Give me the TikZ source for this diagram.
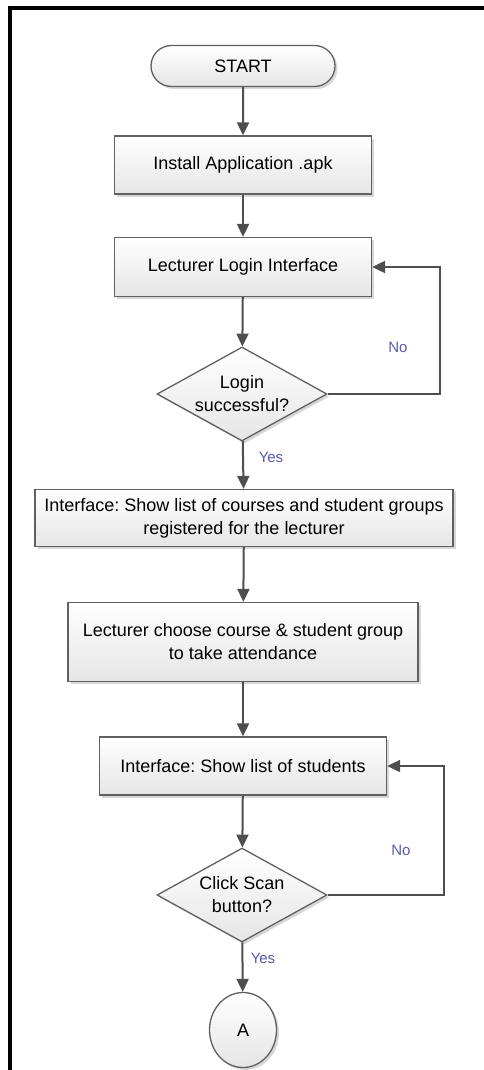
\documentclass[tikz,border=0pt]{standalone}
\usepackage{fontspec}
\setmainfont{Liberation Sans}
\frenchspacing
\usetikzlibrary{shapes.geometric,shapes.misc,shadows,arrows.meta}
\definecolor{trait}{RGB}{78,78,78}
\definecolor{bord}{RGB}{96,96,96}
\definecolor{etiq}{RGB}{88,88,178}

\begin{document}
\begin{tikzpicture}[x=1pt,y=-1pt]
% définition des styles
\tikzstyle{ombre}=[drop shadow={shadow xshift=2.5pt,shadow yshift=-2.5pt,fill=black!35,opacity=0.45}]
\tikzstyle{boite}=[rectangle,draw=bord,line width=1.3pt,top color=white,bottom color=black!10,ombre,align=center,inner sep=0pt,text=black,font=\fontsize{18}{23}\selectfont]
\tikzstyle{debut}=[boite,rounded rectangle,minimum width=184,minimum height=41]
\tikzstyle{test}=[boite,diamond,aspect=1.8,minimum width=170,minimum height=94]
\tikzstyle{renvoi}=[boite,ellipse,minimum width=67,minimum height=75]
\tikzstyle{fleche}=[-{Triangle[length=13pt,width=12pt]},draw=trait,line width=2pt]
\tikzstyle{etiquette}=[text=etiq,font=\fontsize{15}{18}\selectfont]
\useasboundingbox (0,0) rectangle (484,1070);
% le cadre
\draw[line width=4pt] (10,1072) -- (10,8) -- (486,8);
% les nœuds
\node[debut] (S) at (243,66) {START};
\node[boite,minimum width=257,minimum height=58] (I) at (243,165) {Install Application .apk};
\node[boite,minimum width=257,minimum height=59] (L) at (243,267) {Lecturer Login Interface};
\node[test] (T1) at (242,394) {Login\\successful?};
\node[boite,minimum width=418,minimum height=57] (C) at (244,518) {Interface: Show list of courses and student groups\\registered for the lecturer};
\node[boite,minimum width=350,minimum height=79] (G) at (243,642) {Lecturer choose course \& student group\\to take attendance};
\node[boite,minimum width=287,minimum height=58] (E) at (243,766) {Interface: Show list of students};
\node[test] (T2) at (242,895) {Click Scan\\button?};
\node[renvoi] (A) at (243,1030) {A};
\node[etiquette] (N1) at (398,347) {No};
\node[etiquette] (Y1) at (271,457) {Yes};
\node[etiquette] (N2) at (401,850) {No};
\node[etiquette] (Y2) at (263,958) {Yes};
% les flèches
\draw[fleche] (S)--(I);
\draw[fleche] (I)--(L);
\draw[fleche] (L)--(T1);
\draw[fleche] (T1)--(C);
\draw[fleche] (T1.east) -- ++(112,0) |- (L.east);
\draw[fleche] (C)--(G);
\draw[fleche] (G)--(E);
\draw[fleche] (E)--(T2);
\draw[fleche] (T2.east) -- ++(116,0) |- (E.east);
\draw[fleche] (T2)--(A);
\end{tikzpicture}
\end{document}
